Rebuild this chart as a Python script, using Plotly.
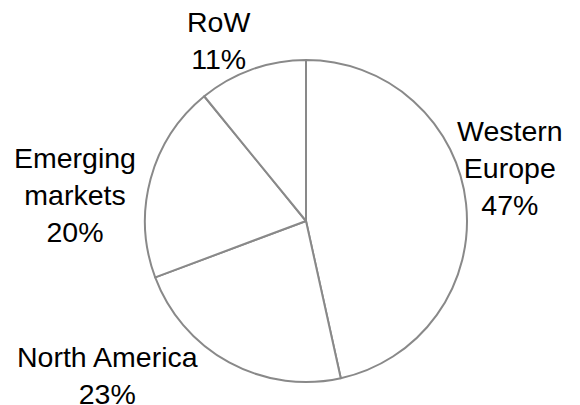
import plotly.graph_objects as go

regions = ["Western Europe", "North America", "Emerging markets", "RoW"]
shares = [47, 23, 20, 11]
label_lines = ["Western<br>Europe", "North America", "Emerging<br>markets", "RoW"]

W, H = 580, 405
OFF = 8  # browser body margin offset of the page
# label block centers in window pixels (layout only)
label_pos = {
    "Western Europe": (510, 168),
    "North America": (107, 375),
    "Emerging markets": (75, 195),
    "RoW": (218, 40),
}

def fx(px):
    return (px - OFF) / W

def fy(py):
    return 1 - (py - OFF) / H

fig = go.Figure(go.Pie(
    labels=regions,
    values=shares,
    sort=False,
    direction="clockwise",
    rotation=0,
    textinfo="none",
    hoverinfo="skip",
    marker=dict(colors=["#ffffff"] * 4, line=dict(color="#898989", width=2)),
    domain=dict(x=[fx(145), fx(467)], y=[fy(382), fy(60)]),
    showlegend=False,
))

annotations = []
for name, txt, v in zip(regions, label_lines, shares):
    px, py = label_pos[name]
    annotations.append(dict(
        x=fx(px), y=fy(py), xref="paper", yref="paper",
        text=f"{txt}<br>{v}%", showarrow=False,
        xanchor="center", yanchor="middle", align="center",
        font=dict(family="Liberation Sans, Arial, sans-serif", size=28.5, color="#000000"),
    ))

fig.update_layout(
    width=W, height=H,
    margin=dict(l=0, r=0, t=0, b=0),
    paper_bgcolor="#ffffff", plot_bgcolor="#ffffff",
    annotations=annotations,
)

fig.write_html("out.html")
